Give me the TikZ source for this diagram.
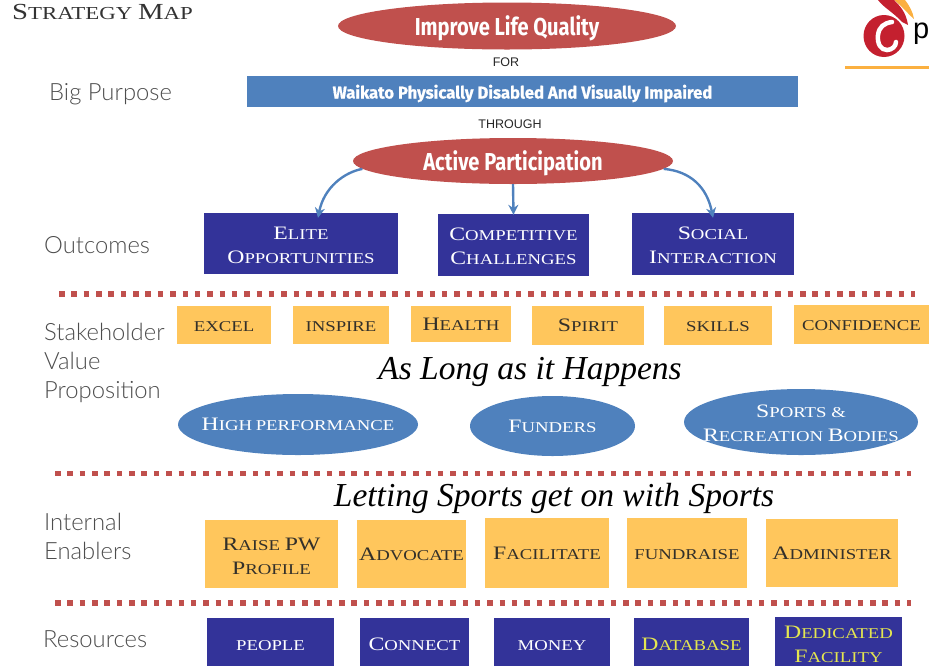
\documentclass[tikz,border=0pt]{standalone}
\usepackage{fontspec}
\usetikzlibrary{shapes.geometric,arrows.meta}
\setmainfont{Liberation Serif}
\newfontfamily\copfont[FakeStretch=1.25]{Liberation Serif}
\newfontfamily\labfont{Lato Light}
\newfontfamily\headbold[FakeStretch=0.82]{Fira Sans Bold}
\newfontfamily\banner[FakeStretch=0.98,FakeBold=0.8]{Fira Sans Bold}
\newfontfamily\armfont{Liberation Sans}
\newfontfamily\scriptf{Liberation Serif Italic}
% small caps by hand: #1 big letters, #2 small letters; \tdrop lowers the text, box size unchanged
\def\tdrop{0pt}
\newcommand{\capsb}[2]{\raisebox{-\tdrop}[\height][\depth]{{\fontsize{\csz}{24pt}\selectfont\vphantom{H}#1}{\fontsize{\ssz}{24pt}\selectfont #2}}}
\newcommand{\headtxt}[2]{\raisebox{#1}[0pt][0pt]{#2}}
\def\csz{19pt}\def\ssz{15pt}
\tikzset{
  x=1pt,y=-1pt,
  navy/.style={rectangle,draw=none,fill=navyc,text=white,inner sep=0pt,align=center,font=\copfont\fontsize{15}{24}\selectfont},
  amber/.style={rectangle,draw=none,fill=amberc,text=ambertxt,inner sep=0pt,align=center,font=\copfont\fontsize{15}{24}\selectfont},
  oval/.style={ellipse,draw=none,fill=bluec,text=white,inner xsep=-70pt,inner ysep=-20pt,align=center,font=\copfont\fontsize{15}{24}\selectfont},
  redoval/.style={ellipse,draw=none,fill=redc,text=white,inner sep=0pt,font=\headbold\fontsize{24.5}{24.5}\selectfont},
  sidelab/.style={anchor=west,inner sep=0pt,text=labc,align=left,font=\labfont\fontsize{23.8}{29}\selectfont},
  small/.style={inner sep=0pt,text=black!85,font=\armfont\fontsize{12.5}{12.5}\selectfont},
  hand/.style={inner sep=0pt,text=black,font=\scriptf\fontsize{33.5}{33.5}\selectfont},
  flow/.style={draw=bluec,line width=2.4pt,-{Stealth[length=10pt,width=10pt]}},
  divider/.style={draw=redc,line width=5.5pt,dash pattern=on 5.5pt off 6.85pt},
  drop/.style={execute at begin node={\def\tdrop{#1}}},
}
\definecolor{navyc}{HTML}{333399}
\definecolor{amberc}{HTML}{FFC65C}
\definecolor{ambertxt}{HTML}{33302A}
\definecolor{bluec}{HTML}{4F81BD}
\definecolor{redc}{HTML}{C0504D}
\definecolor{labc}{HTML}{4D4D4D}
\definecolor{yellowt}{HTML}{E4E650}
\definecolor{logored}{HTML}{C4202F}
\definecolor{logoor}{HTML}{FBB040}
\begin{document}
\begin{tikzpicture}
\useasboundingbox (0,0) rectangle (929,665);
\clip (0,0) rectangle (929,665);
% title
\node[anchor=west,inner sep=0pt,text=black!80,font=\copfont] (title) at (12,12) {\def\csz{23pt}\def\ssz{18.3pt}\capsb{S}{TRATEGY }\capsb{M}{AP}};
% logo
\fill[logoor] (845,65.5) rectangle (929,68.7);
\fill[logoor] (894,0) .. controls (902,6) and (908,14) .. (914,19) .. controls (913,12) and (909,5) .. (905,0) -- cycle;
\fill[logored] (878,0) .. controls (884,8) and (893,12) .. (902,22) -- (908,25) .. controls (906,12) and (900,6) .. (894,0) -- cycle;
\fill[logored] (884,36) ellipse [x radius=20.5,y radius=21];
\draw[white,line width=4.5pt,line cap=round] (892,22) .. controls (884,23) and (879,27) .. (878,35) .. controls (877,44) and (881,50) .. (887,50) .. controls (892,50) and (896,46) .. (896,42);
\node[anchor=base west,inner sep=0pt,text=black,font=\armfont\fontsize{29}{29}\selectfont] (logotext) at (913,38) {p};
% head
\node[redoval,minimum width=338pt,minimum height=47pt] (life) at (507,26) {\headtxt{-9pt}{Improve Life Quality}};
\node[small] (for) at (506,62) {FOR};
\node[rectangle,fill=bluec,text=white,inner sep=0pt,minimum width=551pt,minimum height=31pt,font=\banner\fontsize{17}{17}\selectfont] (waikato) at (522.5,91.5) {\headtxt{-7pt}{Waikato Physically Disabled And Visually Impaired}};
\node[small] (through) at (510,124) {THROUGH};
\node[redoval,minimum width=320pt,minimum height=46pt] (active) at (513,161) {\headtxt{-9pt}{Active Participation}};
% outcomes
\node[navy,drop=2pt,minimum width=194pt,minimum height=61pt] (elite) at (301,243.5) {\capsb{E}{LITE}\\\capsb{O}{PPORTUNITIES}};
\node[navy,drop=1pt,minimum width=151pt,minimum height=62pt] (comp) at (513.5,245) {\capsb{C}{OMPETITIVE}\\\capsb{C}{HALLENGES}};
\node[navy,drop=1pt,minimum width=162pt,minimum height=62pt] (social) at (713,244) {\capsb{S}{OCIAL}\\\capsb{I}{NTERACTION}};
\draw[flow] (active.183.5) .. controls (345,172) and (324,187) .. ([xshift=17pt,yshift=-5pt]elite.north);
\draw[flow] (active.south) -- ([yshift=-1pt]comp.north);
\draw[flow] (active.-3) .. controls (690,171) and (707,187) .. ([yshift=-5pt]social.north);
% dividers
\coordinate (d1a) at (59,294); \coordinate (d1b) at (915,294);
\coordinate (d2a) at (55,473.5); \coordinate (d2b) at (911,473.5);
\coordinate (d3a) at (55,603); \coordinate (d3b) at (911,603);
\draw[divider] (d1a) -- (d1b);
\draw[divider] (d2a) -- (d2b);
\draw[divider] (d3a) -- (d3b);
% labels
\node[sidelab] (lbig) at (49,94.5) {Big Purpose};
\node[sidelab] (lout) at (44,245) {Outcomes};
\node[sidelab] (lstake) at (44,363) {Stakeholder\\Value\\Proposition};
\node[sidelab] (lint) at (44,536.5) {Internal\\Enablers};
\node[sidelab] (lres) at (43,639) {Resources};
% value row
\node[amber,minimum width=94pt,minimum height=38pt] (excel) at (224,325) {\capsb{}{EXCEL}};
\node[amber,minimum width=96pt,minimum height=38pt] (inspire) at (341,325) {\capsb{}{INSPIRE}};
\node[amber,minimum width=100pt,minimum height=36pt] (health) at (461,324) {\capsb{H}{EALTH}};
\node[amber,minimum width=112pt,minimum height=39pt] (spirit) at (588,325.5) {\capsb{S}{PIRIT}};
\node[amber,minimum width=108pt,minimum height=39pt] (skills) at (718,325.5) {\capsb{}{SKILLS}};
\node[amber,minimum width=135pt,minimum height=39pt] (conf) at (861.5,324.5) {\capsb{}{CONFIDENCE}};
\node[hand] (along) at (530,372) {As Long as it Happens};
\node[oval,minimum width=240pt,minimum height=61pt] (high) at (298,424.5) {\capsb{H}{IGH}\hspace{-1pt} \capsb{}{PERFORMANCE}};
\node[oval,minimum width=165pt,minimum height=60pt] (fund) at (552.5,426) {\capsb{F}{UNDERS}};
\node[oval,drop=1pt,minimum width=234pt,minimum height=66pt] (sports) at (801,422) {\capsb{S}{PORTS \&}\\\capsb{R}{ECREATION }\capsb{B}{ODIES}};
% enablers
\node[hand] (letting) at (554,498) {Letting Sports get on with Sports};
\node[amber,drop=2pt,minimum width=133pt,minimum height=68pt] (raise) at (271.5,554) {\capsb{R}{AISE }\capsb{PW}{}\\\capsb{P}{ROFILE}};
\node[amber,minimum width=109pt,minimum height=68pt] (adv) at (411.5,554) {\capsb{A}{DVOCATE}};
\node[amber,minimum width=124pt,minimum height=70pt] (fac) at (547,553) {\capsb{F}{ACILITATE}};
\node[amber,minimum width=120pt,minimum height=70pt] (fr) at (687,553) {\capsb{}{FUNDRAISE}};
\node[amber,minimum width=132pt,minimum height=68pt] (adm) at (832,553) {\capsb{A}{DMINISTER}};
% resources
\node[navy,drop=-1pt,minimum width=127pt,minimum height=54pt] (people) at (270.5,645) {\capsb{}{PEOPLE}};
\node[navy,drop=-1pt,minimum width=109pt,minimum height=54pt] (conn) at (414.5,645) {\capsb{C}{ONNECT}};
\node[navy,drop=-1pt,minimum width=116pt,minimum height=54pt] (money) at (552,645) {\capsb{}{MONEY}};
\node[navy,drop=-1pt,text=yellowt,minimum width=115pt,minimum height=54pt] (data) at (691.5,645) {\capsb{D}{ATABASE}};
\node[navy,text=yellowt,minimum width=127pt,minimum height=54pt] (ded) at (838.5,644) {\capsb{D}{EDICATED}\\\capsb{F}{ACILITY}};
\end{tikzpicture}
\end{document}
